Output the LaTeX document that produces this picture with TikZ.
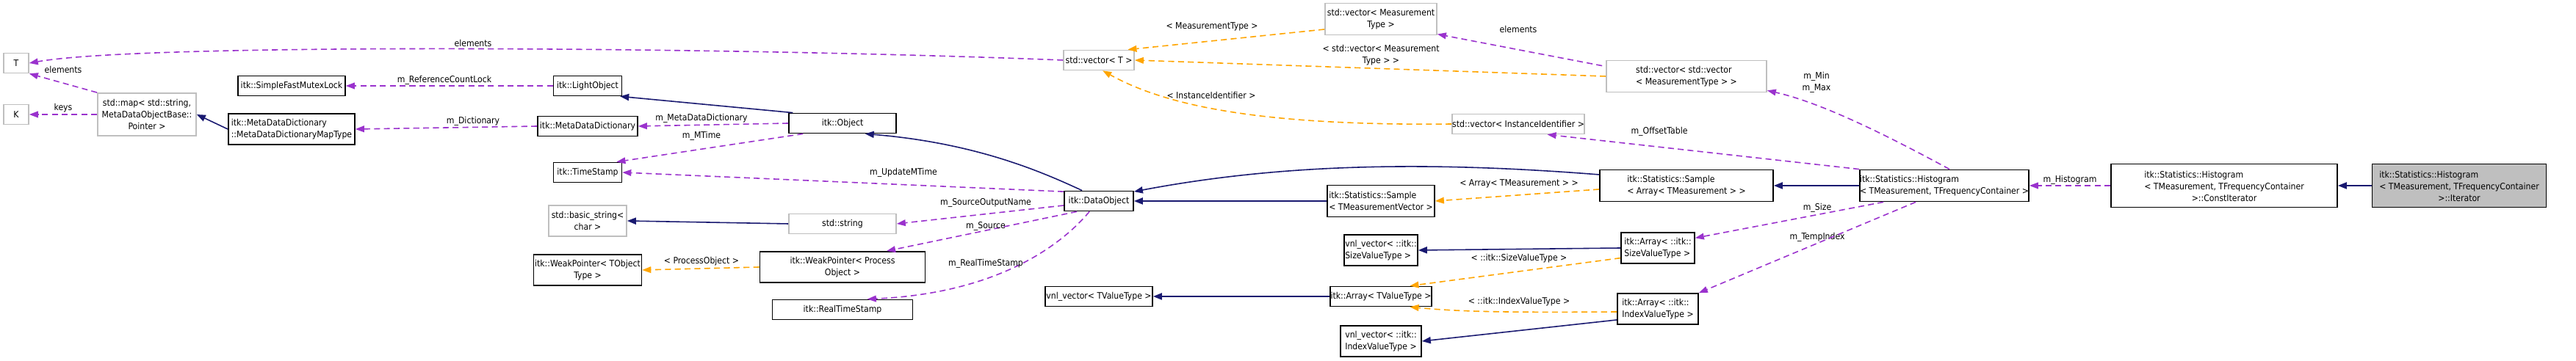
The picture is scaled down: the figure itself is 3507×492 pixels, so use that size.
\documentclass[tikz,border=0pt]{standalone}
\usepackage{fontspec}
\setmainfont{DejaVu Sans Condensed}
\usetikzlibrary{arrows.meta}
\definecolor{inhc}{HTML}{191970}
\definecolor{memc}{HTML}{9A32CD}
\definecolor{tplc}{HTML}{FFA500}
\definecolor{extc}{HTML}{BFBFBF}
\tikzset{
  wh/.style 2 args={minimum width=#1*0.01cm, minimum height=#2*0.01cm},
  box/.style={draw=black, line width=0.5pt, inner sep=0pt, align=left, font=\fontsize{3.45pt}{4.5pt}\selectfont},
  ext/.style={box, draw=extc},
  lbl/.style={inner sep=0pt, align=center, font=\fontsize{3.45pt}{4.5pt}\selectfont},
  inh/.style={draw=inhc, line width=0.45pt, -{Triangle[length=3.4pt,width=2.6pt,fill=inhc]}},
  mem/.style={draw=memc, line width=0.45pt, dash pattern=on 2.3pt off 1.5pt, -{Triangle[length=3.4pt,width=2.6pt,fill=memc,line width=0pt]}},
  tpl/.style={draw=tplc, line width=0.45pt, dash pattern=on 2.3pt off 1.5pt, -{Triangle[length=3.4pt,width=2.6pt,fill=tplc,line width=0pt]}},
}
\begin{document}
\begin{tikzpicture}[x=0.01cm,y=-0.01cm]
\useasboundingbox (0,0) rectangle (3507,492);
% nodes
\node[ext,wh={34}{27},align=center] (T) at (22,86) {T};
\node[ext,wh={34}{27},align=center] (K) at (22,156) {K};
\node[ext,wh={134}{58},align=center] (map) at (200,156) {std::map\textless{} std::string,\\ MetaDataObjectBase::\\Pointer \textgreater{}};
\node[box,wh={146}{27},align=center] (sfml) at (397,117) {itk::SimpleFastMutexLock};
\node[box,wh={172}{42}] (mapt) at (397,176) {itk::MetaDataDictionary\\::MetaDataDictionaryMapType};
\node[box,wh={93}{27},align=center] (light) at (800,117) {itk::LightObject};
\node[box,wh={136}{27},align=center] (mdd) at (800,172) {itk::MetaDataDictionary};
\node[box,wh={93}{27},align=center] (ts) at (800,235) {itk::TimeStamp};
\node[ext,wh={106}{42},align=center] (bstr) at (800,301) {std::basic\_string\textless\\char \textgreater};
\node[box,wh={147}{42},align=center] (wpt) at (800,368) {itk::WeakPointer\textless{} TObject\\Type \textgreater};
\node[box,wh={146}{27},align=center] (obj) at (1147,168) {itk::Object};
\node[ext,wh={146}{27},align=center] (str) at (1147,305) {std::string};
\node[box,wh={225}{42},align=center] (wpp) at (1147,364) {itk::WeakPointer\textless{} Process\\Object \textgreater};
\node[box,wh={191}{27},align=center] (rts) at (1147,422) {itk::RealTimeStamp};
\node[ext,wh={96}{27},align=center] (vecT) at (1496,82) {std::vector\textless{} T \textgreater};
\node[box,wh={94}{27},align=center] (dobj) at (1496,274) {itk::DataObject};
\node[box,wh={146}{27},align=center] (vnltv) at (1496,404) {vnl\_vector\textless{} TValueType \textgreater};
\node[ext,wh={152}{43},align=center] (vecmt) at (1880,26) {std::vector\textless{} Measurement\\Type \textgreater};
\node[ext,wh={218}{43}] (vecvec) at (2296,104) {std::vector\textless{} std::vector\\\textless{} MeasurementType \textgreater{} \textgreater};
\node[ext,wh={180}{27},align=center] (vecii) at (2067,169) {std::vector\textless{} InstanceIdentifier \textgreater};
\node[box,wh={236}{43}] (sarr) at (2296,253) {itk::Statistics::Sample\\\textless{} Array\textless{} TMeasurement \textgreater{} \textgreater};
\node[box,wh={146}{43}] (stmv) at (1880,274) {itk::Statistics::Sample\\\textless{} TMeasurementVector \textgreater};
\node[box,wh={100}{42}] (vnls) at (1880,341) {vnl\_vector\textless{} ::itk::\\SizeValueType \textgreater};
\node[box,wh={100}{42}] (arrs) at (2257,338) {itk::Array\textless{} ::itk::\\SizeValueType \textgreater};
\node[box,wh={138}{27},align=center] (arrtv) at (1880,404) {itk::Array\textless{} TValueType \textgreater};
\node[box,wh={110}{42}] (arri) at (2257,421) {itk::Array\textless{} ::itk::\\IndexValueType \textgreater};
\node[box,wh={110}{42}] (vnli) at (1880,465) {vnl\_vector\textless{} ::itk::\\IndexValueType \textgreater};
\node[box,wh={229}{43}] (hist) at (2647,253) {itk::Statistics::Histogram\\\textless{} TMeasurement, TFrequencyContainer \textgreater};
\node[box,wh={308}{59},align=center] (cit) at (3028,253) {\begin{tabular}{@{}l@{}}itk::Statistics::Histogram\\\textless{} TMeasurement, TFrequencyContainer\end{tabular}\\[-0.3pt]\textgreater::ConstIterator};
\node[box,wh={237}{59},fill=extc,align=center] (it) at (3348,253) {\begin{tabular}{@{}l@{}}itk::Statistics::Histogram\\\textless{} TMeasurement, TFrequencyContainer\end{tabular}\\[-0.3pt]\textgreater::Iterator};
% edges
\draw[mem] (vecT.west) .. controls (1000,64) and (200,58) .. (T.east);
\node[lbl] (l1) at (644,59) {elements};
\draw[mem] (map.north west) -- (T.south east);
\node[lbl] (l2) at (86,95) {elements};
\draw[mem] (map.west) -- (K.east);
\node[lbl] (l3) at (86,147) {keys};
\draw[inh] (mapt.west) -- (map.east);
\draw[mem] (light.west) -- (sfml.east);
\node[lbl] (l4) at (605,109) {m\_ReferenceCountLock};
\draw[mem] (mdd.west) -- (mapt.east);
\node[lbl] (l5) at (644,165) {m\_Dictionary};
\draw[inh] (obj.168) -- (light.-18);
\draw[mem] (obj.west) -- (mdd.east);
\node[lbl] (l6) at (955,161) {m\_MetaDataDictionary};
\draw[mem] (obj.-165) -- (ts.20);
\node[lbl] (l7) at (955,185) {m\_MTime};
\draw[mem] (dobj.165) -- (ts.east);
\node[lbl] (l8) at (1230,235) {m\_UpdateMTime};
\draw[inh] (dobj.north west) ++(25,0) .. controls (1420,235) and (1330,195) .. (obj.-25);
\draw[inh] (str.west) -- (bstr.east);
\draw[mem] (dobj.west) ++(0,6) -- (str.east);
\node[lbl] (l9) at (1342,276) {m\_SourceOutputName};
\draw[mem] (dobj.south west) ++(18,0) -- (wpp.20);
\node[lbl] (l10) at (1342,308) {m\_Source};
\draw[tpl] (wpp.west) -- (wpt.east);
\node[lbl] (l11) at (955,356) {\textless{} ProcessObject \textgreater};
\draw[mem] (dobj.south west) ++(35,0) .. controls (1440,340) and (1350,400) .. (rts.23);
\node[lbl] (l12) at (1342,359) {m\_RealTimeStamp};
\draw[inh] (stmv.west) -- (dobj.east);
\draw[inh] (sarr.west) ++(0,-15) .. controls (1950,220) and (1750,222) .. (dobj.15);
\draw[tpl] (sarr.west) ++(0,5) -- (stmv.east);
\node[lbl] (l13) at (2068,250) {\textless{} Array\textless{} TMeasurement \textgreater{} \textgreater};
\draw[tpl] (vecmt.west) ++(0,14) -- (vecT.20);
\node[lbl] (l14) at (1650,36) {\textless{} MeasurementType \textgreater};
\draw[tpl] (vecvec.west) -- (vecT.east);
\node[lbl] (l15) at (1880,75) {\textless{} std::vector\textless{} Measurement\\Type \textgreater{} \textgreater};
\draw[mem] (vecvec.north west) ++(-5,8) -- (vecmt.-15);
\node[lbl] (l16) at (2067,40) {elements};
\draw[tpl] (vecii.west) .. controls (1700,172) and (1580,140) .. (vecT.-70);
\node[lbl] (l17) at (1649,130) {\textless{} InstanceIdentifier \textgreater};
\draw[mem] (hist.north) ++(7,0) .. controls (2570,185) and (2480,140) .. (vecvec.-10);
\node[lbl] (l18) at (2473,112) {m\_Min\\m\_Max};
\draw[mem] (hist.north west) -- (vecii.-20);
\node[lbl] (l19) at (2259,179) {m\_OffsetTable};
\draw[inh] (hist.west) -- (sarr.east);
\node[lbl] (l20) at (2474,283) {m\_Size};
\draw[mem] (hist.south west) ++(33,0) -- (arrs.15);
\node[lbl] (l21) at (2474,323) {m\_TempIndex};
\draw[mem] (hist.south west) ++(77,0) -- (arri.north east);
\draw[inh] (arrs.west) -- (vnls.east);
\node[lbl] (l22) at (2068,352) {\textless{} ::itk::SizeValueType \textgreater};
\draw[tpl] (arrs.-165) -- (arrtv.20);
\draw[inh] (arrtv.west) -- (vnltv.east);
\node[lbl] (l23) at (2068,411) {\textless{} ::itk::IndexValueType \textgreater};
\draw[tpl] (arri.west) ++(0,4) .. controls (2050,426) and (1990,425) .. (arrtv.-20);
\draw[inh] (arri.-165) -- (vnli.east);
\draw[mem] (cit.west) -- (hist.east);
\node[lbl] (l24) at (2818,245) {m\_Histogram};
\draw[inh] (it.west) -- (cit.east);
\end{tikzpicture}
\end{document}
